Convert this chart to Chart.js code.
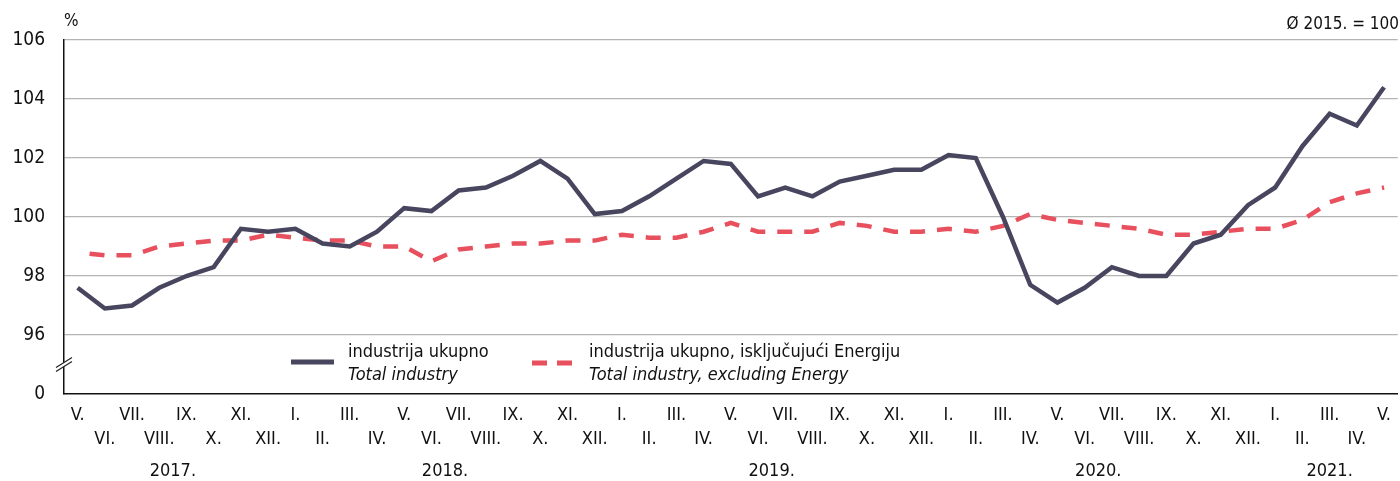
<!DOCTYPE html>
<html>
<head>
<meta charset="utf-8">
<script src="https://cdn.jsdelivr.net/npm/chart.js@4/dist/chart.umd.min.js"></script>
<style>
  html, body { margin: 0; padding: 0; background: #fff; }
  #wrap { width: 1400px; height: 481px; }
</style>
</head>
<body>
<div id="wrap"><canvas id="chart"></canvas></div>
<script>
// months V.2017 - V.2021
const months = [
  'V.','VI.','VII.','VIII.','IX.','X.','XI.','XII.',
  'I.','II.','III.','IV.','V.','VI.','VII.','VIII.','IX.','X.','XI.','XII.',
  'I.','II.','III.','IV.','V.','VI.','VII.','VIII.','IX.','X.','XI.','XII.',
  'I.','II.','III.','IV.','V.','VI.','VII.','VIII.','IX.','X.','XI.','XII.',
  'I.','II.','III.','IV.','V.'
]
// year label -> [first month index, last month index]
const years = [['2017.', 0, 7], ['2018.', 8, 19], ['2019.', 20, 31], ['2020.', 32, 43], ['2021.', 44, 48]]

const totalIndustry = [
  97.6, 96.9, 97.0, 97.6, 98.0, 98.3, 99.6, 99.5,
  99.6, 99.1, 99.0, 99.5, 100.3, 100.2, 100.9, 101.0, 101.4, 101.9, 101.3, 100.1,
  100.2, 100.7, 101.3, 101.9, 101.8, 100.7, 101.0, 100.7, 101.2, 101.4, 101.6, 101.6,
  102.1, 102.0, 100.0, 97.7, 97.1, 97.6, 98.3, 98.0, 98.0, 99.1, 99.4, 100.4,
  101.0, 102.4, 103.5, 103.1, 104.4
]
const excludingEnergy = [
  98.8, 98.7, 98.7, 99.0, 99.1, 99.2, 99.2, 99.4,
  99.3, 99.2, 99.2, 99.0, 99.0, 98.5, 98.9, 99.0, 99.1, 99.1, 99.2, 99.2,
  99.4, 99.3, 99.3, 99.5, 99.8, 99.5, 99.5, 99.5, 99.8, 99.7, 99.5, 99.5,
  99.6, 99.5, 99.7, 100.1, 99.9, 99.8, 99.7, 99.6, 99.4, 99.4, 99.5, 99.6,
  99.6, 99.9, 100.5, 100.8, 101.0
]

const FONT = "'Liberation Sans Narrow', 'DejaVu Sans Condensed', 'Arial Narrow', sans-serif"
const solidColor = '#48455f'
const dashColor  = '#e8505d'
const textColor  = '#111'

const extras = {
  id: 'extras',
  afterDraw(chart) {
    const ctx = chart.ctx
    const x = chart.scales.x
    const y = chart.scales.y
    const area = chart.chartArea
    ctx.save()

    // header texts
    ctx.fillStyle = textColor
    ctx.font = `17px ${FONT}`
    ctx.textBaseline = 'middle'
    ctx.textAlign = 'left'
    ctx.fillText('%', 64, 22)
    ctx.textAlign = 'right'
    ctx.fillText('Ø 2015. = 100', 1399, 25)

    // years
    ctx.font = `18px ${FONT}`
    ctx.textAlign = 'center'
    years.forEach(([label, a, b]) => {
      let px = (x.getPixelForValue(a) + x.getPixelForValue(b)) / 2
      ctx.fillText(label, px, 471)
    })

    // axis break
    let by = y.getPixelForValue(95)
    ctx.fillStyle = '#fff'
    ctx.beginPath()
    ctx.moveTo(area.left - 8, by + 3)
    ctx.lineTo(area.left + 8, by - 7)
    ctx.lineTo(area.left + 8, by - 3)
    ctx.lineTo(area.left - 8, by + 7)
    ctx.closePath()
    ctx.fill()
    ctx.strokeStyle = '#222'
    ctx.lineWidth = 1.2
    ctx.beginPath()
    ctx.moveTo(area.left - 8, by + 3); ctx.lineTo(area.left + 8, by - 7)
    ctx.moveTo(area.left - 8, by + 7); ctx.lineTo(area.left + 8, by - 3)
    ctx.stroke()

    // legend
    ctx.lineWidth = 5
    ctx.strokeStyle = solidColor
    ctx.beginPath()
    ctx.moveTo(291, 362); ctx.lineTo(334, 362)
    ctx.stroke()
    ctx.strokeStyle = dashColor
    ctx.beginPath()
    ctx.moveTo(532, 363); ctx.lineTo(547, 363)
    ctx.moveTo(557, 363); ctx.lineTo(572, 363)
    ctx.stroke()

    ctx.fillStyle = textColor
    ctx.textAlign = 'left'
    ctx.font = `18px ${FONT}`
    ctx.fillText('industrija ukupno', 348, 352)
    ctx.fillText('industrija ukupno, isključujući Energiju', 589, 352)
    ctx.font = `italic 18px ${FONT}`
    ctx.fillText('Total industry', 348, 375)
    ctx.fillText('Total industry, excluding Energy', 589, 375)

    ctx.restore()
  }
}

new Chart(document.getElementById('chart'), {
  type: 'line',
  data: {
    labels: months,
    datasets: [{
      label: 'industrija ukupno',
      data: totalIndustry,
      borderColor: solidColor,
      borderWidth: 4.5,
      pointRadius: 0,
      tension: 0
    },{
      label: 'industrija ukupno, isključujući Energiju',
      data: excludingEnergy,
      borderColor: dashColor,
      borderWidth: 4.5,
      borderDash: [15, 12],
      borderDashOffset: 15,
      pointRadius: 0,
      tension: 0
    }]
  },
  options: {
    responsive: true,
    maintainAspectRatio: false,
    animation: false,
    layout: { padding: { top: 40, right: 0, left: 0, bottom: 0 } },
    plugins: {
      legend: { display: false },
      tooltip: { enabled: false }
    },
    scales: {
      x: {
        offset: true,
        grid: { display: false, drawTicks: false },
        border: { color: '#111', width: 1.5 },
        afterFit: scale => { scale.height = 87 },
        ticks: {
          autoSkip: false,
          maxRotation: 0,
          padding: 9,
          color: textColor,
          font: { family: FONT, size: 18, lineHeight: 1.35 },
          callback: function(value, index) {
            let l = this.getLabelForValue(value)
            return index % 2 === 0 ? [l, ''] : ['', l]
          }
        }
      },
      y: {
        min: 94,
        max: 106,
        grid: {
          drawTicks: false,
          color: ctx => ctx.tick && ctx.tick.value === 94 ? 'rgba(0,0,0,0)' : '#b4b4b4',
          lineWidth: 1.2
        },
        border: { color: '#111', width: 1.5 },
        afterFit: scale => { scale.width = 64 },
        ticks: {
          stepSize: 2,
          padding: 19,
          color: textColor,
          font: { family: FONT, size: 19 },
          callback: v => v === 94 ? '0' : v
        }
      }
    }
  },
  plugins: [extras]
})
</script>
</body>
</html>
